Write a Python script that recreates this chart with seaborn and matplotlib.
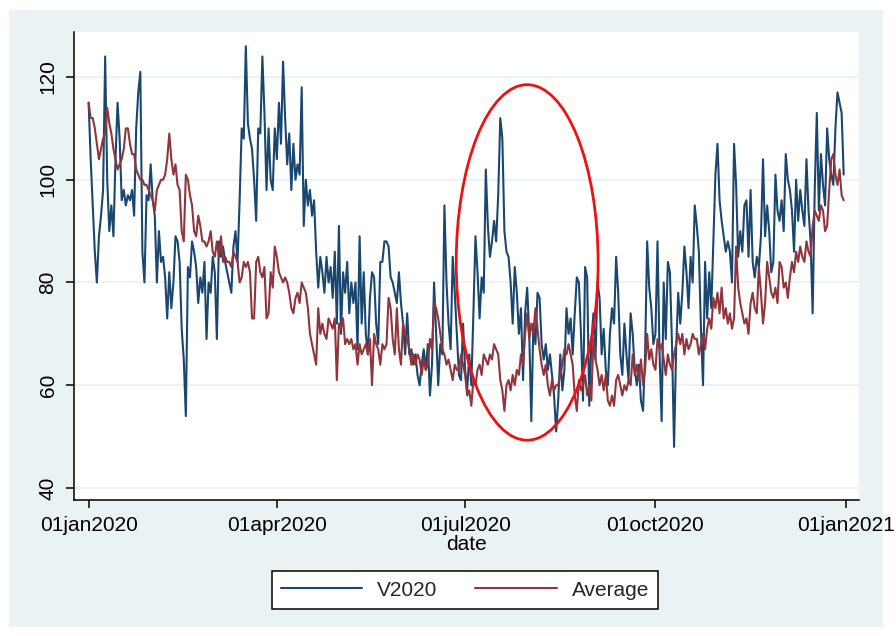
import numpy as np
import pandas as pd
import matplotlib
matplotlib.use("Agg")
import matplotlib.pyplot as plt
import matplotlib.dates as mdates
from matplotlib.patches import Ellipse, Rectangle
from matplotlib.lines import Line2D
import seaborn as sns

# ---- V2020 daily values, by month ----
v2020_jan = [115,104,95,86,80,89,93,98,124,100,90,95,89,104,115,108,96,98,95,97,96,98,93,110,117,121,86,80,97,96,103]
v2020_feb = [96,93,80,90,84,85,81,73,82,75,80,89,88,84,71,65,54,83,81,88,86,83,76,81,78,84,69,80,78]
v2020_mar = [85,82,69,88,85,87,84,82,80,78,87,90,84,96,110,108,126,111,108,106,100,92,110,109,124,113,98,110,100,98,110]
v2020_apr = [104,115,107,123,112,103,109,98,107,100,103,101,118,91,100,95,98,93,96,86,79,85,82,78,85,80,83,77,86,72]
v2020_may = [91,70,82,78,84,74,80,76,80,67,89,72,82,70,66,77,82,81,72,68,84,84,88,88,87,81,80,78,76,82,76]
v2020_jun = [72,66,74,66,67,64,66,62,60,64,67,63,68,58,64,80,70,60,68,66,95,80,72,67,85,78,70,62,61,72]
v2020_jul = [63,59,66,60,74,89,82,73,81,78,102,91,85,88,92,88,97,112,108,90,86,85,80,72,83,78,70,75,61,74,79]
v2020_aug = [70,53,72,68,78,77,68,65,68,63,66,62,58,51,57,66,59,63,75,70,73,66,74,81,80,70,57,83,81,56,68]
v2020_sep = [74,65,80,77,66,71,63,60,70,75,72,85,78,66,62,72,66,61,74,70,63,60,64,57,55,66,88,79,75,68]
v2020_oct = [70,88,66,53,80,69,84,82,68,48,67,78,72,78,87,82,75,85,80,95,91,86,71,60,84,73,82,75,88,101,107]
v2020_nov = [96,92,89,86,88,86,80,107,99,85,90,86,95,96,85,98,84,81,85,83,89,104,89,95,90,82,84,101,94,92]
v2020_dec = [96,90,105,100,98,94,86,100,92,98,94,91,104,94,88,74,98,113,94,105,99,95,110,104,101,99,110,117,115,113,101]

# ---- Average daily values, by month ----
avg_jan = [115,112,112,110,107,104,106,108,109,114,111,109,106,104,102,103,104,106,110,110,107,105,105,102,101,100,100,99,99,98,97]
avg_feb = [96,94,98,99,100,100,101,104,109,104,101,103,99,98,90,88,101,100,97,95,90,89,93,91,88,88,87,88,90]
avg_mar = [86,85,88,85,89,84,85,84,84,83,86,85,84,80,81,84,83,84,82,73,73,84,85,82,81,83,73,74,82,79,87]
avg_apr = [85,82,81,80,81,80,78,75,74,77,78,76,80,79,78,75,70,68,66,64,75,70,72,70,69,73,72,71,73,61]
avg_may = [72,71,73,68,69,68,69,67,68,64,68,66,67,68,66,69,60,70,68,67,64,68,67,68,77,75,69,66,75,67,64]
avg_jun = [72,70,69,67,64,66,64,66,65,62,65,63,64,69,67,76,75,73,70,67,66,64,65,63,61,64,63,63,66,64]
avg_jul = [62,58,59,56,61,60,63,64,62,66,65,64,66,65,68,67,66,61,59,55,60,61,59,62,60,63,62,66,64,70,74]
avg_aug = [69,72,70,75,71,67,64,62,64,60,58,61,59,60,60,62,64,67,66,68,66,64,58,55,61,59,60,62,58,60,57]
avg_sep = [69,65,63,60,62,59,62,57,56,58,56,61,62,60,58,60,59,61,60,66,62,64,61,65,60,63,70,65,67,64]
avg_oct = [63,69,67,68,65,62,66,64,63,66,68,70,68,70,66,69,67,68,70,69,69,66,68,70,67,71,73,71,77,75,78]
avg_nov = [74,79,73,75,72,74,71,73,87,79,76,74,72,73,70,76,78,75,74,83,78,72,76,84,81,78,77,79,76,84]
avg_dec = [83,79,80,77,81,84,82,86,84,87,85,84,88,86,85,91,94,93,92,95,94,90,91,98,104,105,101,99,102,97,96]

series_names = ["V2020", "Average"]
tick_dates = ["2020-01-01", "2020-04-01", "2020-07-01", "2020-10-01", "2021-01-01"]
tick_labels = ["01jan2020", "01apr2020", "01jul2020", "01oct2020", "01jan2021"]
y_ticks = [40, 60, 80, 100, 120]

v2020 = (v2020_jan + v2020_feb + v2020_mar + v2020_apr + v2020_may + v2020_jun +
         v2020_jul + v2020_aug + v2020_sep + v2020_oct + v2020_nov + v2020_dec)
average = (avg_jan + avg_feb + avg_mar + avg_apr + avg_may + avg_jun +
           avg_jul + avg_aug + avg_sep + avg_oct + avg_nov + avg_dec)

dates_v = pd.date_range("2020-01-01", periods=len(v2020), freq="D")
dates_a = pd.date_range("2020-01-01", periods=len(average), freq="D")
df = pd.DataFrame({
    "date": list(dates_v) + list(dates_a),
    "value": v2020 + average,
    "series": [series_names[0]] * len(v2020) + [series_names[1]] * len(average),
})

BLUE = "#1A476F"
RED = "#90353B"
BG = "#EAF2F3"

sns.set_theme(style="white")
plt.rcParams["font.family"] = ["Liberation Sans", "DejaVu Sans"]

W, H = 896, 636
fig = plt.figure(figsize=(W / 100, H / 100), dpi=100)
fig.patch.set_facecolor("white")
bg_rect = Rectangle((9 / W, 1 - 627 / H), (883 - 9) / W, (627 - 10) / H,
                    transform=fig.transFigure, facecolor=BG,
                    edgecolor="none", zorder=-10)
fig.patches.append(bg_rect)

ax = fig.add_axes([73.5 / W, 1 - 500 / H, (859 - 73.5) / W, (500 - 32) / H])
ax.set_zorder(1)
ax.set_facecolor("white")

sns.lineplot(data=df, x="date", y="value", hue="series",
             palette={"V2020": BLUE, "Average": RED},
             hue_order=series_names, linewidth=1.5, ax=ax, legend=False,
             estimator=None, sort=False)

start = mdates.date2num(pd.Timestamp("2020-01-01"))
ax.set_xlim(start - 7.3, start + 372.4)
ax.set_ylim(37.66, 128.76)

ax.set_xticks([mdates.date2num(pd.Timestamp(d)) for d in tick_dates])
ax.set_xticklabels(tick_labels)
ax.set_yticks(y_ticks)
ax.set_yticklabels([str(v) for v in y_ticks], rotation=90, va="center")

ax.yaxis.grid(True, color=BG, linewidth=1.3)
ax.xaxis.grid(False)
ax.set_axisbelow(True)

for side in ["top", "right"]:
    ax.spines[side].set_visible(False)
for side in ["left", "bottom"]:
    ax.spines[side].set_color("black")
    ax.spines[side].set_linewidth(1.1)

ax.tick_params(axis="both", direction="out", length=6, width=1.1,
               color="black", labelsize=15, labelcolor="black", pad=5.5,
               bottom=True, left=True)

ax.set_xlabel("date", fontsize=15, labelpad=0, color="black")
ax.set_ylabel("")

# highlight ellipse
xc = mdates.date2num(pd.Timestamp("2020-07-31"))
ax.add_patch(Ellipse((xc, 83.9), 68.6, 69.2, fill=False, edgecolor="#EE1111",
                     linewidth=2.0, zorder=5, clip_on=False))

handles = [Line2D([], [], color=BLUE, lw=1.5), Line2D([], [], color=RED, lw=1.5)]
leg = fig.legend(handles=handles, labels=series_names, loc="center",
                 bbox_to_anchor=(465 / W, 1 - 590 / H), ncol=2, frameon=True,
                 fancybox=False, edgecolor="black", facecolor="white",
                 framealpha=1, fontsize=15, handlelength=3.9,
                 handletextpad=0.72, columnspacing=1.8, borderpad=0.45)
leg.get_frame().set_linewidth(1.1)
leg.set_zorder(2)

fig.savefig("out.png", dpi=100, facecolor=fig.get_facecolor())
